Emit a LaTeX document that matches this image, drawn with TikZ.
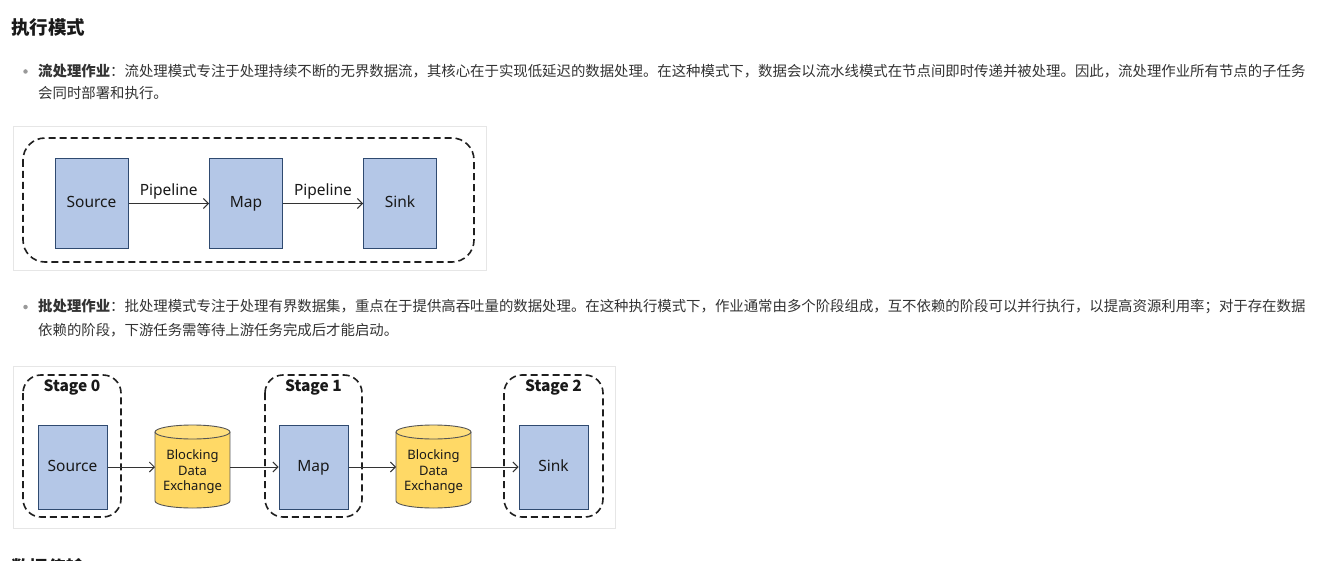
\documentclass[tikz,border=0pt]{standalone}
\usepackage{fontspec}
\setmainfont{Noto Sans}
\newfontfamily\cjk{Noto Sans CJK SC}
\usetikzlibrary{arrows.meta}
\definecolor{boxfill}{HTML}{B4C7E7}
\definecolor{boxdraw}{HTML}{2F4A70}
\definecolor{cylfill}{HTML}{FFD966}
\definecolor{cyldraw}{HTML}{555555}
\definecolor{txt}{HTML}{333333}
\definecolor{headtxt}{HTML}{1A1A1A}
\definecolor{panelline}{HTML}{E6E6E6}
\tikzset{
  heading/.style={anchor=west, inner sep=0, text=headtxt, font=\cjk\bfseries\fontsize{18.5}{20}\selectfont},
  para/.style={anchor=west, inner sep=0, text=txt, font=\cjk\fontsize{14.4}{18}\selectfont},
  bullet/.style={circle, fill=black!40, inner sep=0, minimum size=4.5},
  panel/.style={draw=panelline, line width=1, fill=white},
  dashbox/.style={draw=black!88, line width=1.6, dash pattern=on 7 off 4, rounded corners=22},
  bluebox/.style={draw=boxdraw, line width=1, fill=boxfill, text=black!90, text height=11, text depth=3, font=\fontsize{15.5}{18}\selectfont},
  lbl/.style={text=black!90, font=\fontsize{15.5}{18}\selectfont, inner sep=0},
  stagelbl/.style={text=black!90, font=\cjk\bfseries\fontsize{15.5}{18}\selectfont, inner sep=0},
  cyltext/.style={align=center, text=black!90, font=\fontsize{13}{15.5}\selectfont, inner sep=0},
  cylbody/.style={fill=cylfill, draw=cyldraw, line width=0.9},
  arr/.style={draw=black!80, line width=0.9, -{Straight Barb[length=5, width=10]}},
}
\begin{document}
\begin{tikzpicture}[x=1pt,y=-1pt]
\useasboundingbox (0,0) rectangle (1321,561);
\clip (0,0) rectangle (1321,561);
\fill[white] (0,0) rectangle (1321,561);

% heading
\node[heading] (h1) at (11,28) {执行模式};

% paragraph 1
\node[bullet] (b1) at (25.5,71.5) {};
\node[para] (p1a) at (38,71) {\textbf{流处理作业}：流处理模式专注于处理持续不断的无界数据流，其核心在于实现低延迟的数据处理。在这种模式下，数据会以流水线模式在节点间即时传递并被处理。因此，流处理作业所有节点的子任务};
\node[para] (p1b) at (38,93) {会同时部署和执行。};

% diagram 1
\draw[panel] (13,127) rectangle (486,270);
\draw[dashbox] (23,138) rectangle (474,262);
\node[bluebox, minimum width=73, minimum height=89] (src1) at (91.5,203.5) {Source};
\node[bluebox, minimum width=73, minimum height=89] (map1) at (246,203.5) {Map};
\node[bluebox, minimum width=73, minimum height=89] (snk1) at (400,203.5) {Sink};
\draw[arr] (src1) -- node[lbl, above=4] (pl1) {Pipeline} (map1);
\draw[arr] (map1) -- node[lbl, above=4] (pl2) {Pipeline} (snk1);

% paragraph 2
\node[bullet] (b2) at (25.5,307) {};
\node[para] (p2a) at (38,306) {\textbf{批处理作业}：批处理模式专注于处理有界数据集，重点在于提供高吞吐量的数据处理。在这种执行模式下，作业通常由多个阶段组成，互不依赖的阶段可以并行执行，以提高资源利用率；对于存在数据};
\node[para] (p2b) at (38,330) {依赖的阶段，下游任务需等待上游任务完成后才能启动。};

% diagram 2
\draw[panel] (13,366) rectangle (615,528);
\draw[dashbox, rounded corners=18] (23,375) rectangle (121,517);
\draw[dashbox, rounded corners=18] (265,375) rectangle (362,517);
\draw[dashbox, rounded corners=18] (504,375) rectangle (603,517);
\node[stagelbl] (s0) at (72,387) {Stage 0};
\node[stagelbl] (s1) at (313.5,387) {Stage 1};
\node[stagelbl] (s2) at (553.5,387) {Stage 2};

\node[bluebox, minimum width=69, minimum height=84] (src2) at (72.5,467) {Source};
\node[bluebox, minimum width=69, minimum height=84] (map2) at (313.5,467) {Map};
\node[bluebox, minimum width=69, minimum height=84] (snk2) at (553.5,467) {Sink};

% cylinders
\foreach \cx in {192.5,433.5}{
  \path[cylbody, draw=none] (\cx-37.5,432) rectangle (\cx+37.5,501);
  \fill[cylfill] (\cx,501) ellipse[x radius=37.5, y radius=7];
  \draw[cyldraw, line width=0.9] (\cx-37.5,432) -- (\cx-37.5,501) arc[start angle=180, end angle=0, x radius=37.5, y radius=7] -- (\cx+37.5,432);
  \path[cylbody, fill=cylfill!85!white] (\cx,432) ellipse[x radius=37.5, y radius=7];
}
\node[cyltext, minimum width=75, minimum height=60] (c1) at (192.5,472) {Blocking\\Data\\Exchange};
\node[cyltext, minimum width=75, minimum height=60] (c2) at (433.5,472) {Blocking\\Data\\Exchange};
\coordinate (c1w) at (155,467);
\coordinate (c1e) at (230,467);
\coordinate (c2w) at (396,467);
\coordinate (c2e) at (471,467);

\draw[arr] (src2.east) -- (c1w);
\draw[arr] (c1e) -- (map2.west);
\draw[arr] (map2.east) -- (c2w);
\draw[arr] (c2e) -- (snk2.west);

% next heading (cut off at the bottom edge, as in the reference)
\node[heading] (h2) at (11,567) {数据传输};
\end{tikzpicture}
\end{document}
